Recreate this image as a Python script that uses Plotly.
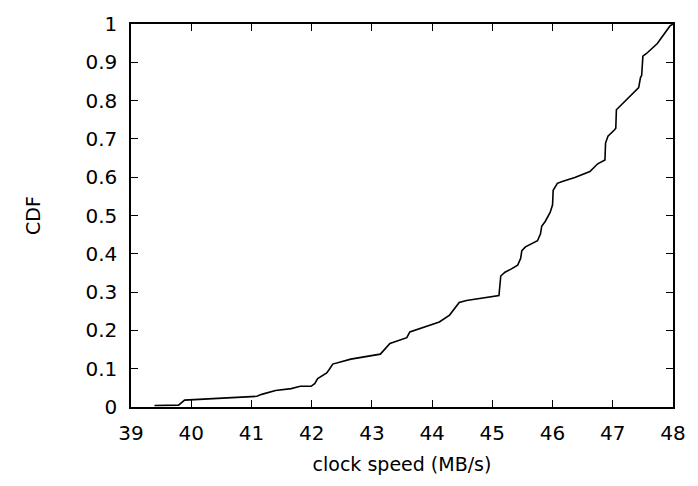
import plotly.graph_objects as go

speed = [39.39, 39.79, 39.89, 40.10, 40.58, 41.09, 41.17, 41.40, 41.66, 41.81,
         41.99, 42.05, 42.10, 42.25, 42.30, 42.35, 42.65, 43.14, 43.30, 43.58,
         43.63, 44.12, 44.29, 44.45, 44.57, 45.11, 45.14, 45.21, 45.31, 45.42,
         45.47, 45.49, 45.55, 45.75, 45.80, 45.82, 45.88, 45.96, 46.00, 46.01,
         46.08, 46.16, 46.37, 46.62, 46.75, 46.87, 46.88, 46.92, 47.03, 47.05,
         47.06, 47.28, 47.36, 47.43, 47.46, 47.48, 47.50, 47.56, 47.74, 47.85,
         47.95, 48.00]
cdf = [0.004, 0.005, 0.018, 0.020, 0.023, 0.028, 0.033, 0.043, 0.048, 0.054,
       0.054, 0.061, 0.074, 0.089, 0.100, 0.112, 0.125, 0.138, 0.166, 0.181,
       0.196, 0.222, 0.240, 0.273, 0.278, 0.291, 0.342, 0.352, 0.360, 0.370,
       0.388, 0.408, 0.418, 0.434, 0.452, 0.472, 0.485, 0.508, 0.528, 0.566,
       0.584, 0.589, 0.599, 0.615, 0.635, 0.645, 0.689, 0.707, 0.724, 0.728,
       0.776, 0.809, 0.821, 0.834, 0.860, 0.866, 0.916, 0.923, 0.949, 0.974,
       0.995, 1.000]

x_ticks = [39, 40, 41, 42, 43, 44, 45, 46, 47, 48]
y_ticks = [0, 0.1, 0.2, 0.3, 0.4, 0.5, 0.6, 0.7, 0.8, 0.9, 1]
y_tick_labels = ["0", "0.1", "0.2", "0.3", "0.4", "0.5", "0.6", "0.7", "0.8", "0.9", "1"]

fig = go.Figure()
fig.add_trace(go.Scatter(x=speed, y=cdf, mode="lines",
                         line=dict(color="black", width=1.6), showlegend=False))

tick_font = dict(family="DejaVu Sans", size=20, color="black")
title_font = dict(family="DejaVu Sans", size=19, color="black")
fig.update_layout(
    width=698, height=486,
    margin=dict(l=131, r=19, t=15, b=79),
    paper_bgcolor="white", plot_bgcolor="white",
    font=title_font,
    xaxis=dict(range=[39, 48], tickvals=x_ticks, ticks="inside", ticklen=7,
               tickwidth=1.3, tickcolor="black", showline=True, linecolor="black",
               linewidth=1.5, mirror="allticks", showgrid=False, zeroline=False,
               tickfont=tick_font, ticklabelstandoff=7,
               title=dict(text="clock speed (MB/s)", font=title_font, standoff=14)),
    yaxis=dict(range=[0, 1], tickvals=y_ticks, ticktext=y_tick_labels,
               ticks="inside", ticklen=7, tickwidth=1.3, tickcolor="black",
               showline=True, linecolor="black", linewidth=1.5, mirror="allticks",
               showgrid=False, zeroline=False, tickfont=tick_font,
               ticklabelstandoff=8,
               title=dict(text="CDF", font=title_font, standoff=40)),
)

fig.write_html("out.html")
